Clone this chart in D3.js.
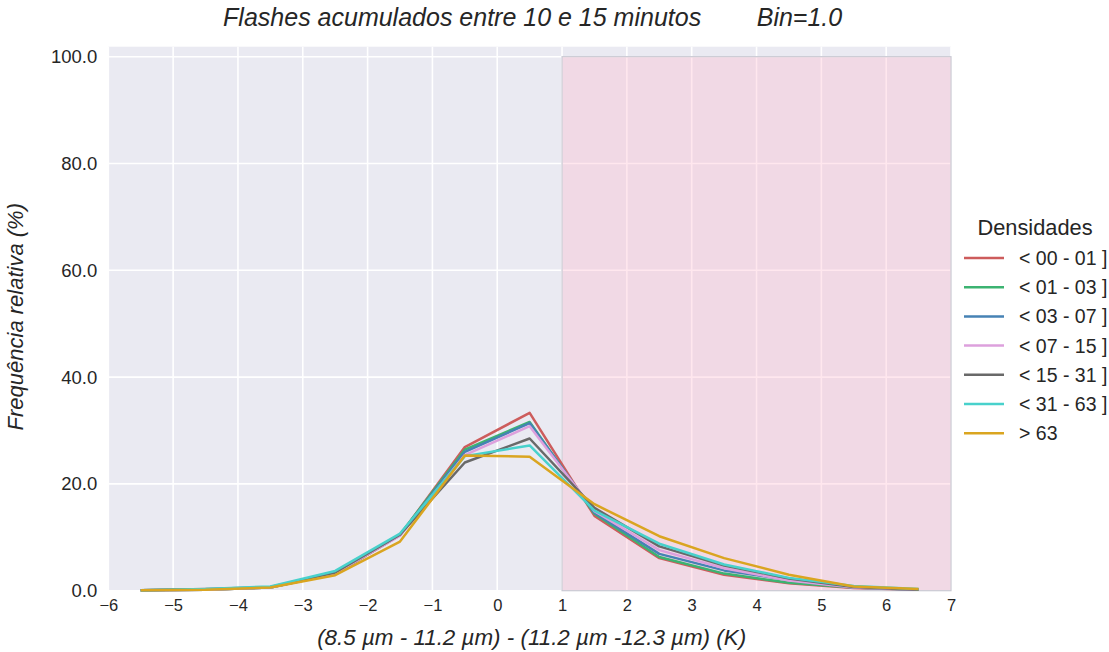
<!DOCTYPE html>
<html><head><meta charset="utf-8">
<script src="https://cdn.jsdelivr.net/npm/d3@7"></script>
<style>body{margin:0;background:#fff}svg{display:block}text{font-family:"Liberation Sans",Arial,sans-serif;fill:#262626}</style>
</head><body><svg id="c" width="1109" height="652"></svg>
<script>
const binCenters = [-5.5,-4.5,-3.5,-2.5,-1.5,-0.5,0.5,1.5,2.5,3.5,4.5,5.5,6.5];
const seriesNames = ["< 00 - 01 ]","< 01 - 03 ]","< 03 - 07 ]","< 07 - 15 ]","< 15 - 31 ]","< 31 - 63 ]","> 63"];
const seriesColors = ["#cd5c5c","#3cb371","#4682b4","#dda0dd","#696969","#48d1cc","#daa520"];
const s0001 = [0.1,0.2,0.6,3.1,10.4,26.9,33.3,14.0,6.1,3.0,1.4,0.5,0.2];
const s0103 = [0.1,0.2,0.6,3.2,10.5,26.4,31.6,14.4,6.3,3.2,1.5,0.6,0.2];
const s0307 = [0.1,0.2,0.6,3.3,10.4,26.0,31.4,14.6,6.9,3.8,2.0,0.6,0.2];
const s0715 = [0.1,0.2,0.6,3.3,10.3,25.4,30.8,14.9,7.6,4.2,1.9,0.6,0.2];
const s1531 = [0.1,0.3,0.7,3.4,10.5,24.0,28.5,15.5,8.3,4.7,2.3,0.7,0.2];
const s3163 = [0.1,0.3,0.8,3.7,10.7,25.2,27.2,15.0,8.8,4.9,2.4,0.9,0.3];
const s63 = [0.1,0.2,0.6,2.9,9.2,25.3,25.1,16.2,10.2,6.1,3.0,0.8,0.3];
const seriesValues = [s0001,s0103,s0307,s0715,s1531,s3163,s63];
const xTicks = [-6,-5,-4,-3,-2,-1,0,1,2,3,4,5,6,7];
const yTicks = [0,20,40,60,80,100];
const shadeRange = [1,7];
const shadeTop = 100;

const svg = d3.select("#c");
const L=108.3,R=951,T=46.7,B=590.7;
const x = d3.scaleLinear().domain([-6,7]).range([L,R]);
const y = d3.scaleLinear().domain([0,101.87]).range([B,T]);

svg.append("rect").attr("x",L).attr("y",T).attr("width",R-L).attr("height",B-T).attr("fill","#eaeaf2");
const g = svg.append("g");
g.selectAll(".vg").data(xTicks).join("line").attr("x1",d=>x(d)).attr("x2",d=>x(d)).attr("y1",T).attr("y2",B).attr("stroke","#fff").attr("stroke-width",1.6);
g.selectAll(".hg").data(yTicks).join("line").attr("x1",L).attr("x2",R).attr("y1",d=>y(d)).attr("y2",d=>y(d)).attr("stroke","#fff").attr("stroke-width",1.6);

svg.append("rect").attr("x",x(shadeRange[0])).attr("y",y(shadeTop)).attr("width",x(shadeRange[1])-x(shadeRange[0])).attr("height",y(0)-y(shadeTop))
  .attr("fill","rgb(255,182,203)").attr("fill-opacity",0.33).attr("stroke","#c9c9d3").attr("stroke-width",1.2);

const line = d3.line().x((d,i)=>x(binCenters[i])).y(d=>y(d));
seriesValues.forEach((vals,k)=>{
  svg.append("path").datum(vals).attr("d",line).attr("fill","none").attr("stroke",seriesColors[k]).attr("stroke-width",2.5).attr("stroke-linejoin","round");
});

// axes
const xa = svg.append("g").attr("transform",`translate(0,${B})`).call(d3.axisBottom(x).tickValues(xTicks).tickSize(0).tickPadding(9).tickFormat(d=>d<0?"\u2212"+Math.abs(d):String(d)));
xa.select(".domain").remove();
xa.selectAll("text").attr("font-size",16.5).attr("fill","#262626").attr("font-family","Liberation Sans, Arial, sans-serif");
const ya = svg.append("g").attr("transform",`translate(${L},0)`).call(d3.axisLeft(y).tickValues(yTicks).tickSize(0).tickPadding(11).tickFormat(d3.format(".1f")));
ya.select(".domain").remove();
ya.selectAll("text").attr("font-size",18.5).attr("fill","#262626").attr("font-family","Liberation Sans, Arial, sans-serif");

svg.append("text").attr("x",(L+R)/2+3).attr("y",26).attr("text-anchor","middle").attr("font-size",25).attr("font-style","italic").style("white-space","pre")
  .text("Flashes acumulados entre 10 e 15 minutos        Bin=1.0");
svg.append("text").attr("x",(L+R)/2+2).attr("y",645).attr("text-anchor","middle").attr("font-size",22.4).attr("font-style","italic")
  .text("(8.5 \u00b5m - 11.2 \u00b5m) - (11.2 \u00b5m -12.3 \u00b5m) (K)");
svg.append("text").attr("transform",`translate(23,${(T+B)/2-2}) rotate(-90)`).attr("text-anchor","middle").attr("font-size",22).attr("font-style","italic")
  .text("Frequência relativa (%)");

// legend
const lg = svg.append("g");
lg.append("text").attr("x",1035).attr("y",235).attr("text-anchor","middle").attr("font-size",21.8).text("Densidades");
seriesNames.forEach((n,k)=>{
  const yy = 258 + k*29.2;
  lg.append("line").attr("x1",964).attr("x2",1004).attr("y1",yy).attr("y2",yy).attr("stroke",seriesColors[k]).attr("stroke-width",2.5);
  lg.append("text").attr("x",1019).attr("y",yy+7).attr("font-size",19.5).text(n);
});
</script></body></html>
